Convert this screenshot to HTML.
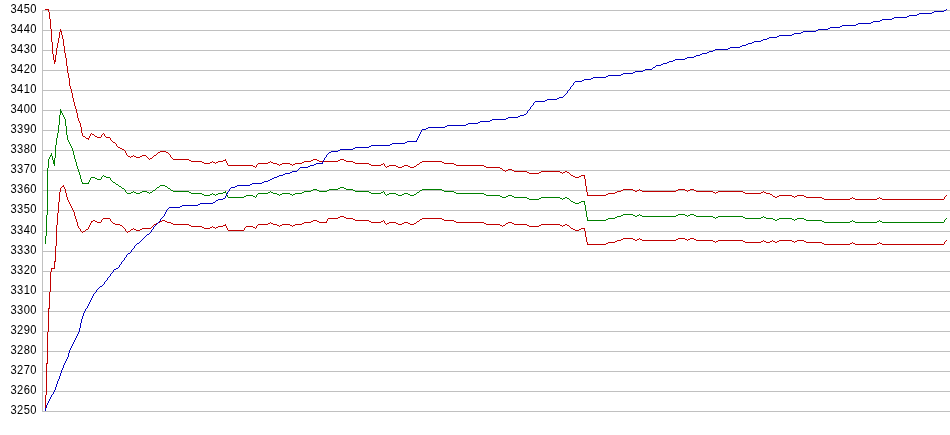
<!DOCTYPE html>
<html><head><meta charset="utf-8"><title>chart</title>
<style>
html,body{margin:0;padding:0;background:#fff;}
svg{display:block}
.lbl text{font-family:"Liberation Sans",Arial,sans-serif;font-size:12px;fill:#000;text-anchor:end}
</style></head><body>
<svg width="950" height="435" viewBox="0 0 950 435">
<rect width="950" height="435" fill="#fff"/>
<g fill="#c0c0c0" shape-rendering="crispEdges"><rect x="42" y="10" width="908" height="1"/><rect x="42" y="30" width="908" height="1"/><rect x="42" y="50" width="908" height="1"/><rect x="42" y="70" width="908" height="1"/><rect x="42" y="90" width="908" height="1"/><rect x="42" y="110" width="908" height="1"/><rect x="42" y="130" width="908" height="1"/><rect x="42" y="150" width="908" height="1"/><rect x="42" y="170" width="908" height="1"/><rect x="42" y="190" width="908" height="1"/><rect x="42" y="210" width="908" height="1"/><rect x="42" y="231" width="908" height="1"/><rect x="42" y="251" width="908" height="1"/><rect x="42" y="271" width="908" height="1"/><rect x="42" y="291" width="908" height="1"/><rect x="42" y="311" width="908" height="1"/><rect x="42" y="331" width="908" height="1"/><rect x="42" y="351" width="908" height="1"/><rect x="42" y="371" width="908" height="1"/><rect x="42" y="391" width="908" height="1"/><rect x="42" y="411" width="908" height="1"/></g>
<rect x="42" y="10" width="1" height="402" fill="#c0c0c0" shape-rendering="crispEdges"/>
<g class="lbl" style="will-change:transform"><text transform="translate(36.82 13.4) scale(0.93 1)" letter-spacing="0.4">3450</text><text transform="translate(36.82 33.4) scale(0.93 1)" letter-spacing="0.4">3440</text><text transform="translate(36.82 53.4) scale(0.93 1)" letter-spacing="0.4">3430</text><text transform="translate(36.82 73.4) scale(0.93 1)" letter-spacing="0.4">3420</text><text transform="translate(36.82 93.4) scale(0.93 1)" letter-spacing="0.4">3410</text><text transform="translate(36.82 113.4) scale(0.93 1)" letter-spacing="0.4">3400</text><text transform="translate(36.82 133.4) scale(0.93 1)" letter-spacing="0.4">3390</text><text transform="translate(36.82 153.4) scale(0.93 1)" letter-spacing="0.4">3380</text><text transform="translate(36.82 173.4) scale(0.93 1)" letter-spacing="0.4">3370</text><text transform="translate(36.82 193.4) scale(0.93 1)" letter-spacing="0.4">3360</text><text transform="translate(36.82 213.4) scale(0.93 1)" letter-spacing="0.4">3350</text><text transform="translate(36.82 234.4) scale(0.93 1)" letter-spacing="0.4">3340</text><text transform="translate(36.82 254.4) scale(0.93 1)" letter-spacing="0.4">3330</text><text transform="translate(36.82 274.4) scale(0.93 1)" letter-spacing="0.4">3320</text><text transform="translate(36.82 294.4) scale(0.93 1)" letter-spacing="0.4">3310</text><text transform="translate(36.82 314.4) scale(0.93 1)" letter-spacing="0.4">3300</text><text transform="translate(36.82 334.4) scale(0.93 1)" letter-spacing="0.4">3290</text><text transform="translate(36.82 354.4) scale(0.93 1)" letter-spacing="0.4">3280</text><text transform="translate(36.82 374.4) scale(0.93 1)" letter-spacing="0.4">3270</text><text transform="translate(36.82 394.4) scale(0.93 1)" letter-spacing="0.4">3260</text><text transform="translate(36.82 414.4) scale(0.93 1)" letter-spacing="0.4">3250</text></g>
<g shape-rendering="crispEdges">
<path class="red-upper" fill="#c00000" d="M45 9h4v1h-4zM48 10h1v2h-1zM49 12h1v7h-1zM50 19h1v10h-1zM51 29h1v13h-1zM52 42h1v12h-1zM53 54h1v6h-1zM54 60h2v1h-2zM54 61h2v1h-2zM54 62h1v2h-1zM55 55h1v5h-1zM56 48h1v7h-1zM57 43h1v5h-1zM58 38h1v5h-1zM59 32h1v6h-1zM60 29h1v2h-1zM60 31h2v1h-2zM61 32h1v3h-1zM62 35h1v4h-1zM63 39h1v7h-1zM64 46h1v7h-1zM65 53h1v5h-1zM66 58h1v8h-1zM67 66h1v7h-1zM68 73h1v5h-1zM69 78h1v8h-1zM70 86h1v3h-1zM71 89h1v4h-1zM72 93h1v5h-1zM73 98h1v4h-1zM74 102h1v4h-1zM75 106h1v3h-1zM76 109h1v4h-1zM77 113h1v5h-1zM78 118h1v3h-1zM79 121h1v2h-1zM80 123h1v4h-1zM81 127h1v6h-1zM82 133h1v3h-1zM83 136h2v1h-2zM85 137h1v1h-1zM86 138h3v1h-3zM88 139h1v1h-1zM89 136h1v2h-1zM90 134h1v2h-1zM91 133h1v1h-1zM92 134h2v1h-2zM94 135h1v1h-1zM95 136h2v1h-2zM97 137h4v1h-4zM101 135h1v2h-1zM102 134h1v1h-1zM103 133h1v1h-1zM104 134h1v2h-1zM105 136h1v1h-1zM106 137h4v1h-4zM110 138h1v2h-1zM111 140h1v1h-1zM112 141h1v1h-1zM113 142h2v1h-2zM115 143h1v1h-1zM116 144h1v2h-1zM117 146h1v1h-1zM118 147h2v1h-2zM120 148h2v1h-2zM122 149h2v1h-2zM124 150h1v1h-1zM125 151h1v2h-1zM126 153h1v2h-1zM127 155h1v1h-1zM128 156h2v1h-2zM130 157h1v1h-1zM131 156h2v1h-2zM133 155h1v1h-1zM134 156h2v1h-2zM136 157h4v1h-4zM140 156h2v1h-2zM142 155h4v1h-4zM146 156h1v1h-1zM147 157h1v1h-1zM148 158h1v1h-1zM149 159h1v1h-1zM150 158h2v1h-2zM152 157h1v1h-1zM153 156h1v1h-1zM154 155h2v1h-2zM156 154h1v1h-1zM157 153h1v1h-1zM158 152h2v1h-2zM160 151h6v1h-6zM166 152h2v1h-2zM168 153h1v1h-1zM169 154h1v1h-1zM170 155h1v2h-1zM171 157h1v1h-1zM172 158h1v1h-1zM173 159h16v1h-16zM189 160h2v1h-2zM191 161h11v1h-11zM202 162h2v1h-2zM204 163h6v1h-6zM210 162h2v1h-2zM212 161h1v1h-1zM213 162h2v1h-2zM215 163h1v1h-1zM216 162h2v1h-2zM218 161h5v1h-5zM223 160h3v1h-3zM225 159h1v1h-1zM226 161h1v2h-1zM227 163h1v2h-1zM228 165h25v1h-25zM253 166h2v1h-2zM255 167h1v1h-1zM256 165h1v2h-1zM257 164h1v1h-1zM258 163h10v1h-10zM268 162h2v1h-2zM270 161h1v1h-1zM271 162h2v1h-2zM273 163h4v1h-4zM277 164h2v1h-2zM279 165h1v1h-1zM280 164h2v1h-2zM282 163h8v1h-8zM290 164h2v1h-2zM292 165h1v1h-1zM293 164h2v1h-2zM295 163h7v1h-7zM302 162h2v1h-2zM304 161h7v1h-7zM311 160h2v1h-2zM313 159h4v1h-4zM317 160h2v1h-2zM319 161h19v1h-19zM338 160h2v1h-2zM340 159h4v1h-4zM344 160h2v1h-2zM346 161h7v1h-7zM353 162h2v1h-2zM355 163h14v1h-14zM369 164h2v1h-2zM371 165h10v1h-10zM381 164h2v1h-2zM383 163h1v1h-1zM384 164h1v2h-1zM385 166h1v1h-1zM386 167h1v1h-1zM387 166h2v1h-2zM389 165h7v1h-7zM396 166h2v1h-2zM398 167h4v1h-4zM402 166h2v1h-2zM404 165h4v1h-4zM408 166h2v1h-2zM410 167h4v1h-4zM414 166h2v1h-2zM416 165h1v1h-1zM417 164h2v1h-2zM419 163h1v1h-1zM420 162h2v1h-2zM422 161h20v1h-20zM442 162h2v1h-2zM444 163h10v1h-10zM454 164h2v1h-2zM456 165h28v1h-28zM484 166h2v1h-2zM486 167h14v1h-14zM500 168h2v1h-2zM502 169h1v1h-1zM503 170h2v1h-2zM505 171h1v1h-1zM506 170h2v1h-2zM508 169h4v1h-4zM512 170h2v1h-2zM514 171h13v1h-13zM527 172h2v1h-2zM529 173h10v1h-10zM539 172h2v1h-2zM541 171h19v1h-19zM560 172h2v1h-2zM562 173h1v1h-1zM563 172h2v1h-2zM565 171h2v1h-2zM567 172h2v1h-2zM569 173h1v1h-1zM570 174h1v1h-1zM571 175h2v1h-2zM573 176h2v1h-2zM575 177h4v1h-4zM579 176h2v1h-2zM581 175h4v1h-4zM584 176h1v3h-1zM585 179h1v7h-1zM586 186h1v6h-1zM587 192h1v3h-1zM587 195h19v1h-19zM606 194h2v1h-2zM608 193h7v1h-7zM615 192h2v1h-2zM617 191h4v1h-4zM621 190h2v1h-2zM623 189h10v1h-10zM633 190h2v1h-2zM635 191h2v1h-2zM637 190h2v1h-2zM639 189h1v1h-1zM640 190h2v1h-2zM642 191h34v1h-34zM676 190h2v1h-2zM678 189h7v1h-7zM685 190h2v1h-2zM687 191h1v1h-1zM688 190h2v1h-2zM690 189h4v1h-4zM694 190h2v1h-2zM696 191h17v1h-17zM713 192h2v1h-2zM715 193h1v1h-1zM716 192h2v1h-2zM718 191h25v1h-25zM743 192h2v1h-2zM745 193h16v1h-16zM761 192h2v1h-2zM763 191h1v1h-1zM764 192h2v1h-2zM766 193h4v1h-4zM770 194h2v1h-2zM772 195h1v1h-1zM773 196h2v1h-2zM775 197h2v1h-2zM777 196h2v1h-2zM779 195h13v1h-13zM792 196h2v1h-2zM794 197h1v1h-1zM795 196h2v1h-2zM797 195h7v1h-7zM804 196h2v1h-2zM806 197h16v1h-16zM822 198h2v1h-2zM824 199h26v1h-26zM850 198h2v1h-2zM852 197h1v1h-1zM853 198h2v1h-2zM855 199h22v1h-22zM877 198h2v1h-2zM879 197h1v1h-1zM880 198h2v1h-2zM882 199h62v1h-62zM944 197h1v2h-1zM945 196h1v1h-1zM946 195h1v1h-1z"/>
<path class="green" fill="#008000" d="M45 236h1v8h-1zM46 215h1v21h-1zM47 168h1v47h-1zM48 159h1v9h-1zM49 157h1v2h-1zM50 155h2v1h-2zM50 156h1v1h-1zM51 153h1v2h-1zM52 156h1v4h-1zM53 160h2v1h-2zM53 161h2v1h-2zM53 162h2v1h-2zM53 163h2v1h-2zM54 158h1v2h-1zM54 164h1v2h-1zM55 145h1v13h-1zM56 138h1v7h-1zM57 133h1v5h-1zM58 125h1v8h-1zM59 115h1v10h-1zM60 109h1v2h-1zM60 111h2v1h-2zM60 112h2v1h-2zM60 113h1v2h-1zM62 113h1v2h-1zM63 115h1v2h-1zM64 117h1v2h-1zM65 119h1v7h-1zM66 126h1v9h-1zM67 135h1v5h-1zM68 140h1v2h-1zM69 142h1v2h-1zM70 144h1v2h-1zM71 146h1v2h-1zM72 148h1v3h-1zM73 151h1v4h-1zM74 155h1v4h-1zM75 159h1v3h-1zM76 162h1v4h-1zM77 166h1v3h-1zM78 169h1v3h-1zM79 172h1v3h-1zM80 175h1v4h-1zM81 179h1v3h-1zM82 182h1v1h-1zM82 183h7v1h-7zM88 182h1v1h-1zM89 180h1v2h-1zM90 178h1v2h-1zM91 177h4v1h-4zM95 178h2v1h-2zM97 179h4v1h-4zM101 177h1v2h-1zM102 176h1v1h-1zM103 175h1v1h-1zM104 176h2v1h-2zM106 177h4v1h-4zM110 178h1v2h-1zM111 180h1v1h-1zM112 181h1v1h-1zM113 182h2v1h-2zM115 183h1v1h-1zM116 184h2v1h-2zM118 185h1v1h-1zM119 186h2v1h-2zM121 187h1v1h-1zM122 188h2v1h-2zM124 189h1v1h-1zM125 190h1v2h-1zM126 192h1v1h-1zM127 193h4v1h-4zM131 192h2v1h-2zM133 191h1v1h-1zM134 192h2v1h-2zM136 193h4v1h-4zM140 192h2v1h-2zM142 191h5v1h-5zM147 192h2v1h-2zM149 193h1v1h-1zM150 192h2v1h-2zM152 191h1v1h-1zM153 190h2v1h-2zM155 189h1v1h-1zM156 188h1v1h-1zM157 187h2v1h-2zM159 186h1v1h-1zM160 185h5v1h-5zM165 186h2v1h-2zM167 187h1v1h-1zM168 188h2v1h-2zM170 189h1v1h-1zM171 190h2v1h-2zM173 191h16v1h-16zM189 192h2v1h-2zM191 193h11v1h-11zM202 194h2v1h-2zM204 195h6v1h-6zM210 194h2v1h-2zM212 193h1v1h-1zM213 194h2v1h-2zM215 195h1v1h-1zM216 194h2v1h-2zM218 193h5v1h-5zM223 192h3v1h-3zM225 191h1v1h-1zM226 193h1v2h-1zM227 195h1v2h-1zM228 197h16v1h-16zM244 196h2v1h-2zM246 195h7v1h-7zM253 196h2v1h-2zM255 197h1v1h-1zM256 195h1v2h-1zM257 194h1v1h-1zM258 193h10v1h-10zM268 192h2v1h-2zM270 191h1v1h-1zM271 192h2v1h-2zM273 193h4v1h-4zM277 194h2v1h-2zM279 195h1v1h-1zM280 194h2v1h-2zM282 193h8v1h-8zM290 194h2v1h-2zM292 195h1v1h-1zM293 194h2v1h-2zM295 193h7v1h-7zM302 192h2v1h-2zM304 191h7v1h-7zM311 190h2v1h-2zM313 189h4v1h-4zM317 190h2v1h-2zM319 191h8v1h-8zM327 190h2v1h-2zM329 189h9v1h-9zM338 188h2v1h-2zM340 187h4v1h-4zM344 188h2v1h-2zM346 189h7v1h-7zM353 190h2v1h-2zM355 191h14v1h-14zM369 192h2v1h-2zM371 193h10v1h-10zM381 192h2v1h-2zM383 191h1v1h-1zM384 192h1v2h-1zM385 194h1v1h-1zM386 195h1v1h-1zM387 194h2v1h-2zM389 193h7v1h-7zM396 194h2v1h-2zM398 195h4v1h-4zM402 194h2v1h-2zM404 193h4v1h-4zM408 194h2v1h-2zM410 195h4v1h-4zM414 194h2v1h-2zM416 193h1v1h-1zM417 192h2v1h-2zM419 191h1v1h-1zM420 190h2v1h-2zM422 189h20v1h-20zM442 190h2v1h-2zM444 191h10v1h-10zM454 192h2v1h-2zM456 193h28v1h-28zM484 194h2v1h-2zM486 195h14v1h-14zM500 196h2v1h-2zM502 197h4v1h-4zM506 196h2v1h-2zM508 195h4v1h-4zM512 196h2v1h-2zM514 197h13v1h-13zM527 198h2v1h-2zM529 199h10v1h-10zM539 198h2v1h-2zM541 197h19v1h-19zM560 198h2v1h-2zM562 199h1v1h-1zM563 198h2v1h-2zM565 197h2v1h-2zM567 198h2v1h-2zM569 199h1v1h-1zM570 200h1v1h-1zM571 201h2v1h-2zM573 202h2v1h-2zM575 203h4v1h-4zM579 202h2v1h-2zM581 201h4v1h-4zM584 202h1v3h-1zM585 205h1v6h-1zM586 211h1v6h-1zM587 217h1v3h-1zM587 220h19v1h-19zM606 219h2v1h-2zM608 218h7v1h-7zM615 217h2v1h-2zM617 216h4v1h-4zM621 215h2v1h-2zM623 214h10v1h-10zM633 215h2v1h-2zM635 216h2v1h-2zM637 215h2v1h-2zM639 214h1v1h-1zM640 215h2v1h-2zM642 216h34v1h-34zM676 215h2v1h-2zM678 214h7v1h-7zM685 215h2v1h-2zM687 216h1v1h-1zM688 215h2v1h-2zM690 214h4v1h-4zM694 215h2v1h-2zM696 216h17v1h-17zM713 217h2v1h-2zM715 218h1v1h-1zM716 217h2v1h-2zM718 216h25v1h-25zM743 217h2v1h-2zM745 218h16v1h-16zM761 217h2v1h-2zM763 216h1v1h-1zM764 217h2v1h-2zM766 218h7v1h-7zM773 219h2v1h-2zM775 220h2v1h-2zM777 219h2v1h-2zM779 218h13v1h-13zM792 219h2v1h-2zM794 220h1v1h-1zM795 219h2v1h-2zM797 218h7v1h-7zM804 219h2v1h-2zM806 220h16v1h-16zM822 221h2v1h-2zM824 222h26v1h-26zM850 221h2v1h-2zM852 220h1v1h-1zM853 221h2v1h-2zM855 222h22v1h-22zM877 221h2v1h-2zM879 220h1v1h-1zM880 221h2v1h-2zM882 222h62v1h-62zM944 220h1v2h-1zM945 219h1v1h-1zM946 218h1v1h-1z"/>
<path class="red-lower" fill="#c00000" d="M45 395h1v16h-1zM46 363h2v1h-2zM46 364h1v31h-1zM47 332h1v31h-1zM48 308h2v1h-2zM48 309h1v23h-1zM49 292h1v16h-1zM50 272h1v20h-1zM51 268h4v1h-4zM51 269h1v3h-1zM54 261h2v1h-2zM54 262h1v6h-1zM55 246h1v15h-1zM56 225h1v21h-1zM57 213h1v12h-1zM58 202h1v11h-1zM59 192h1v10h-1zM60 188h1v4h-1zM61 187h1v1h-1zM62 186h2v1h-2zM63 185h1v1h-1zM64 187h1v2h-1zM65 189h1v4h-1zM66 193h1v4h-1zM67 197h1v3h-1zM68 200h1v2h-1zM69 202h1v2h-1zM70 204h1v2h-1zM71 206h1v2h-1zM72 208h1v2h-1zM73 210h1v2h-1zM74 212h1v4h-1zM75 216h1v3h-1zM76 219h1v3h-1zM77 222h1v4h-1zM78 226h1v2h-1zM79 228h1v1h-1zM80 229h1v2h-1zM81 231h1v1h-1zM82 232h1v1h-1zM83 231h2v1h-2zM85 230h1v1h-1zM86 229h2v1h-2zM88 227h1v2h-1zM89 225h1v2h-1zM90 223h1v2h-1zM91 221h2v1h-2zM91 222h1v1h-1zM93 220h2v1h-2zM95 221h2v1h-2zM97 222h4v1h-4zM101 220h1v2h-1zM102 219h1v1h-1zM103 218h7v1h-7zM110 219h1v2h-1zM111 221h1v1h-1zM112 222h1v1h-1zM113 223h2v1h-2zM115 224h5v1h-5zM120 225h2v1h-2zM122 226h1v1h-1zM123 227h1v1h-1zM124 228h1v1h-1zM125 229h1v2h-1zM126 231h1v1h-1zM127 232h1v1h-1zM128 231h2v1h-2zM130 230h1v1h-1zM131 229h2v1h-2zM133 228h1v1h-1zM134 229h2v1h-2zM136 230h4v1h-4zM140 229h2v1h-2zM142 228h9v1h-9zM151 227h1v1h-1zM152 226h1v1h-1zM153 225h1v1h-1zM154 224h2v1h-2zM156 223h2v1h-2zM158 222h2v1h-2zM160 221h2v1h-2zM162 220h3v1h-3zM165 221h2v1h-2zM167 222h4v1h-4zM171 223h2v1h-2zM173 224h16v1h-16zM189 225h2v1h-2zM191 226h11v1h-11zM202 227h2v1h-2zM204 228h6v1h-6zM210 227h2v1h-2zM212 226h1v1h-1zM213 227h2v1h-2zM215 228h1v1h-1zM216 227h2v1h-2zM218 226h5v1h-5zM223 225h3v1h-3zM225 224h1v1h-1zM226 226h1v2h-1zM227 228h1v2h-1zM228 230h16v1h-16zM244 228h1v2h-1zM245 227h1v1h-1zM246 226h7v1h-7zM253 227h2v1h-2zM255 228h1v1h-1zM256 226h1v2h-1zM257 225h1v1h-1zM258 224h10v1h-10zM268 223h2v1h-2zM270 222h1v1h-1zM271 223h2v1h-2zM273 224h4v1h-4zM277 225h2v1h-2zM279 226h1v1h-1zM280 225h2v1h-2zM282 224h8v1h-8zM290 225h2v1h-2zM292 226h1v1h-1zM293 225h2v1h-2zM295 224h7v1h-7zM302 223h2v1h-2zM304 222h7v1h-7zM311 221h2v1h-2zM313 220h4v1h-4zM317 221h2v1h-2zM319 222h8v1h-8zM326 221h1v1h-1zM327 219h1v2h-1zM328 218h10v1h-10zM338 217h2v1h-2zM340 216h4v1h-4zM344 217h2v1h-2zM346 218h7v1h-7zM353 219h2v1h-2zM355 220h14v1h-14zM369 221h2v1h-2zM371 222h10v1h-10zM381 221h2v1h-2zM383 220h1v1h-1zM384 221h1v2h-1zM385 223h1v1h-1zM386 224h1v1h-1zM387 223h2v1h-2zM389 222h7v1h-7zM396 223h2v1h-2zM398 224h4v1h-4zM402 223h2v1h-2zM404 222h4v1h-4zM408 223h2v1h-2zM410 224h4v1h-4zM414 223h2v1h-2zM416 222h1v1h-1zM417 221h2v1h-2zM419 220h1v1h-1zM420 219h2v1h-2zM422 218h20v1h-20zM442 219h2v1h-2zM444 220h10v1h-10zM454 221h2v1h-2zM456 222h28v1h-28zM484 223h2v1h-2zM486 224h14v1h-14zM500 225h2v1h-2zM502 226h1v1h-1zM503 225h2v1h-2zM505 224h1v1h-1zM506 223h2v1h-2zM508 222h4v1h-4zM512 223h2v1h-2zM514 224h13v1h-13zM527 225h2v1h-2zM529 226h10v1h-10zM539 225h2v1h-2zM541 224h19v1h-19zM560 225h2v1h-2zM562 226h1v1h-1zM563 225h2v1h-2zM565 224h2v1h-2zM567 225h2v1h-2zM569 226h1v1h-1zM570 227h1v1h-1zM571 228h2v1h-2zM573 229h2v1h-2zM575 230h4v1h-4zM579 229h2v1h-2zM581 228h4v1h-4zM584 229h1v2h-1zM585 231h1v6h-1zM586 237h1v5h-1zM587 242h1v2h-1zM587 244h19v1h-19zM606 243h2v1h-2zM608 242h7v1h-7zM615 241h2v1h-2zM617 240h4v1h-4zM621 239h2v1h-2zM623 238h10v1h-10zM633 239h2v1h-2zM635 240h2v1h-2zM637 239h2v1h-2zM639 238h1v1h-1zM640 239h2v1h-2zM642 240h34v1h-34zM676 239h2v1h-2zM678 238h7v1h-7zM685 239h2v1h-2zM687 240h1v1h-1zM688 239h2v1h-2zM690 238h4v1h-4zM694 239h2v1h-2zM696 240h17v1h-17zM713 241h2v1h-2zM715 242h1v1h-1zM716 241h2v1h-2zM718 240h25v1h-25zM743 241h2v1h-2zM745 242h16v1h-16zM761 241h2v1h-2zM763 240h1v1h-1zM764 241h2v1h-2zM766 242h4v1h-4zM770 241h2v1h-2zM772 240h1v1h-1zM773 241h2v1h-2zM775 242h2v1h-2zM777 241h2v1h-2zM779 240h13v1h-13zM792 241h2v1h-2zM794 242h1v1h-1zM795 241h2v1h-2zM797 240h7v1h-7zM804 241h2v1h-2zM806 242h16v1h-16zM822 243h2v1h-2zM824 244h26v1h-26zM850 243h2v1h-2zM852 242h1v1h-1zM853 243h2v1h-2zM855 244h22v1h-22zM877 243h2v1h-2zM879 242h1v1h-1zM880 243h2v1h-2zM882 244h62v1h-62zM944 242h1v2h-1zM945 241h1v1h-1zM946 240h1v1h-1z"/>
<path class="blue" fill="#0000c0" d="M45 408h1v3h-1zM46 405h1v3h-1zM47 403h1v2h-1zM48 401h1v2h-1zM49 399h1v2h-1zM50 397h1v2h-1zM51 395h1v2h-1zM52 394h1v1h-1zM53 392h1v2h-1zM54 390h1v2h-1zM55 387h1v3h-1zM56 384h1v3h-1zM57 381h1v3h-1zM58 379h1v2h-1zM59 376h1v3h-1zM60 373h1v3h-1zM61 370h1v3h-1zM62 368h1v2h-1zM63 365h1v3h-1zM64 363h1v2h-1zM65 361h1v2h-1zM66 359h1v2h-1zM67 357h1v2h-1zM68 353h1v4h-1zM69 350h1v3h-1zM70 348h1v2h-1zM71 346h1v2h-1zM72 344h1v2h-1zM73 342h1v2h-1zM74 340h1v2h-1zM75 338h1v2h-1zM76 336h1v2h-1zM77 334h1v2h-1zM78 332h1v2h-1zM79 328h1v4h-1zM80 323h1v5h-1zM81 319h1v4h-1zM82 316h1v3h-1zM83 313h1v3h-1zM84 311h1v2h-1zM85 309h1v2h-1zM86 308h1v1h-1zM87 306h1v2h-1zM88 304h1v2h-1zM89 302h1v2h-1zM90 300h1v2h-1zM91 298h1v2h-1zM92 296h1v2h-1zM93 294h1v2h-1zM94 293h1v1h-1zM95 292h1v1h-1zM96 290h1v2h-1zM97 289h1v1h-1zM98 288h1v1h-1zM99 287h1v1h-1zM100 286h2v1h-2zM102 285h1v1h-1zM103 284h1v1h-1zM104 282h1v2h-1zM105 281h1v1h-1zM106 280h1v1h-1zM107 278h1v2h-1zM108 277h1v1h-1zM109 276h1v1h-1zM110 274h1v2h-1zM111 273h1v1h-1zM112 272h1v1h-1zM113 270h1v2h-1zM114 269h2v1h-2zM116 268h2v1h-2zM118 267h1v1h-1zM119 265h1v2h-1zM120 264h1v1h-1zM121 262h1v2h-1zM122 261h1v1h-1zM123 260h1v1h-1zM124 258h1v2h-1zM125 257h1v1h-1zM126 255h1v2h-1zM127 254h1v1h-1zM128 253h2v1h-2zM130 252h1v1h-1zM131 250h1v2h-1zM132 249h1v1h-1zM133 248h1v1h-1zM134 246h1v2h-1zM135 245h1v1h-1zM136 244h1v1h-1zM137 243h2v1h-2zM139 242h1v1h-1zM140 241h1v1h-1zM141 240h1v1h-1zM142 239h1v1h-1zM143 238h1v1h-1zM144 237h1v1h-1zM145 236h1v1h-1zM146 235h1v1h-1zM147 234h2v1h-2zM149 233h1v1h-1zM150 232h1v1h-1zM151 230h1v2h-1zM152 229h1v1h-1zM153 227h1v2h-1zM154 226h1v1h-1zM155 225h1v1h-1zM156 224h1v1h-1zM157 223h1v1h-1zM158 222h1v1h-1zM159 221h1v1h-1zM160 219h1v2h-1zM161 218h1v1h-1zM162 217h1v1h-1zM163 216h1v1h-1zM164 214h1v2h-1zM165 212h1v2h-1zM166 210h1v2h-1zM167 209h1v1h-1zM168 208h1v1h-1zM169 207h11v1h-11zM180 206h2v1h-2zM182 205h16v1h-16zM198 204h2v1h-2zM200 203h13v1h-13zM213 202h2v1h-2zM215 201h1v1h-1zM216 200h2v1h-2zM218 199h5v1h-5zM223 198h2v1h-2zM225 196h1v2h-1zM226 194h1v2h-1zM227 192h1v2h-1zM228 191h1v1h-1zM229 189h1v2h-1zM230 188h1v1h-1zM231 187h4v1h-4zM235 186h2v1h-2zM237 185h13v1h-13zM250 184h2v1h-2zM252 183h10v1h-10zM262 182h2v1h-2zM264 181h4v1h-4zM268 180h2v1h-2zM270 179h2v1h-2zM272 178h2v1h-2zM274 177h3v1h-3zM277 176h2v1h-2zM279 175h4v1h-4zM283 174h2v1h-2zM285 173h5v1h-5zM290 172h2v1h-2zM292 171h5v1h-5zM297 170h1v1h-1zM298 169h1v1h-1zM299 168h1v1h-1zM300 167h8v1h-8zM308 166h2v1h-2zM310 165h4v1h-4zM314 164h2v1h-2zM316 163h7v1h-7zM322 162h1v1h-1zM323 160h1v2h-1zM324 158h1v2h-1zM325 157h1v1h-1zM326 155h1v2h-1zM327 154h1v1h-1zM328 153h1v1h-1zM329 152h2v1h-2zM331 151h7v1h-7zM338 150h2v1h-2zM340 149h13v1h-13zM353 148h2v1h-2zM355 147h14v1h-14zM369 146h2v1h-2zM371 145h19v1h-19zM390 144h2v1h-2zM392 143h13v1h-13zM405 142h2v1h-2zM407 141h10v1h-10zM416 140h1v1h-1zM417 138h1v2h-1zM418 136h1v2h-1zM419 134h1v2h-1zM420 132h1v2h-1zM421 130h1v2h-1zM422 129h4v1h-4zM426 128h2v1h-2zM428 127h17v1h-17zM445 126h2v1h-2zM447 125h19v1h-19zM466 124h2v1h-2zM468 123h10v1h-10zM478 122h2v1h-2zM480 121h10v1h-10zM490 120h2v1h-2zM492 119h14v1h-14zM506 118h2v1h-2zM508 117h10v1h-10zM518 116h2v1h-2zM520 115h4v1h-4zM524 114h2v1h-2zM526 113h1v1h-1zM527 111h1v2h-1zM528 110h1v1h-1zM529 109h1v1h-1zM530 107h1v2h-1zM531 106h1v1h-1zM532 105h1v1h-1zM533 103h1v2h-1zM534 102h1v1h-1zM535 101h10v1h-10zM545 100h2v1h-2zM547 99h10v1h-10zM557 98h2v1h-2zM559 97h4v1h-4zM563 96h1v1h-1zM564 95h1v1h-1zM565 94h1v1h-1zM566 93h1v1h-1zM567 91h1v2h-1zM568 90h1v1h-1zM569 89h1v1h-1zM570 87h1v2h-1zM571 86h1v1h-1zM572 85h1v1h-1zM573 83h1v2h-1zM574 82h1v1h-1zM575 81h7v1h-7zM582 80h2v1h-2zM584 79h7v1h-7zM591 78h2v1h-2zM593 77h13v1h-13zM606 76h2v1h-2zM608 75h13v1h-13zM621 74h2v1h-2zM623 73h10v1h-10zM633 72h2v1h-2zM635 71h8v1h-8zM643 70h2v1h-2zM645 69h7v1h-7zM652 68h1v1h-1zM653 67h2v1h-2zM655 66h1v1h-1zM656 65h5v1h-5zM661 64h2v1h-2zM663 63h4v1h-4zM667 62h2v1h-2zM669 61h4v1h-4zM673 60h2v1h-2zM675 59h10v1h-10zM685 58h2v1h-2zM687 57h7v1h-7zM694 56h2v1h-2zM696 55h4v1h-4zM700 54h2v1h-2zM702 53h5v1h-5zM707 52h2v1h-2zM709 51h4v1h-4zM713 50h2v1h-2zM715 49h13v1h-13zM728 48h2v1h-2zM730 47h10v1h-10zM740 46h2v1h-2zM742 45h4v1h-4zM746 44h2v1h-2zM748 43h4v1h-4zM752 42h2v1h-2zM754 41h7v1h-7zM761 40h2v1h-2zM763 39h4v1h-4zM767 38h2v1h-2zM769 37h8v1h-8zM777 36h2v1h-2zM779 35h13v1h-13zM792 34h2v1h-2zM794 33h7v1h-7zM801 32h2v1h-2zM803 31h13v1h-13zM816 30h2v1h-2zM818 29h10v1h-10zM828 28h2v1h-2zM830 27h10v1h-10zM840 26h2v1h-2zM842 25h14v1h-14zM856 24h2v1h-2zM858 23h13v1h-13zM871 22h2v1h-2zM873 21h7v1h-7zM880 20h2v1h-2zM882 19h10v1h-10zM892 18h2v1h-2zM894 17h13v1h-13zM907 16h2v1h-2zM909 15h8v1h-8zM917 14h2v1h-2zM919 13h13v1h-13zM932 12h2v1h-2zM934 11h10v1h-10zM944 10h2v1h-2zM946 9h1v1h-1z"/>
</g>
</svg>
</body></html>
